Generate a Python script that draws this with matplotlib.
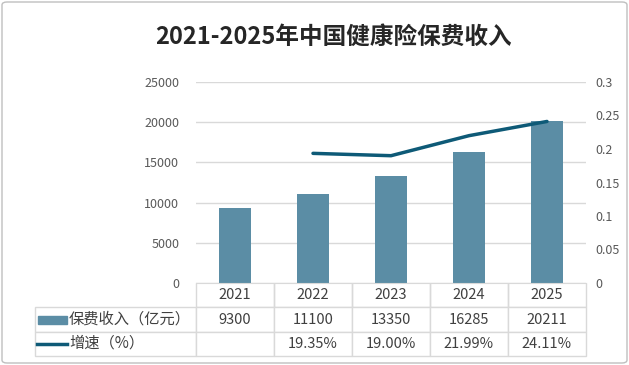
import numpy as np
import matplotlib.pyplot as plt
from matplotlib.patches import Rectangle, FancyBboxPatch
from matplotlib.lines import Line2D

plt.rcParams['font.family'] = ['Noto Sans CJK SC', 'DejaVu Sans']

#%% data
years = ['2021', '2022', '2023', '2024', '2025']
premium = [9300, 11100, 13350, 16285, 20211]  # 亿元
growth = [None, 0.1935, 0.1900, 0.2199, 0.2411]
growth_labels = ['', '19.35%', '19.00%', '21.99%', '24.11%']
row_names = ['保费收入（亿元）', '增速（%）']

bar_color = '#5B8DA5'
line_color = '#0E5A77'
grid_color = '#D9D9D9'
text_color = '#595959'

#%% figure
W, H = 629, 365
fig = plt.figure(figsize=(W / 100, H / 100), dpi=100)
fig.patch.set_facecolor('white')
fig.patches.append(FancyBboxPatch((2 / W, 2 / H), 1 - 4 / W, 1 - 4 / H,
                                  boxstyle='round,pad=0,rounding_size=0.008',
                                  transform=fig.transFigure, facecolor='none',
                                  edgecolor='#BFBFBF', linewidth=1))

# plot area in pixels
x0, x1, y_top, y_bot = 196, 586, 82, 283
ax = fig.add_axes([x0 / W, (H - y_bot) / H, (x1 - x0) / W, (y_bot - y_top) / H])

x = np.arange(len(years))
ax.bar(x, premium, width=0.4, color=bar_color, zorder=2)
ax.set_xlim(-0.5, len(years) - 0.5)
ax.set_ylim(0, 25000)
ax.set_yticks(np.arange(0, 25001, 5000))
ax.yaxis.grid(True, color=grid_color, linewidth=1, zorder=0)
ax.set_xticks([])
ax.tick_params(axis='y', length=0, pad=12, labelsize=9, labelcolor=text_color)
for s in ['top', 'right', 'left']:
    ax.spines[s].set_visible(False)
ax.spines['bottom'].set_color(grid_color)

ax2 = ax.twinx()
gx = [i for i, g in enumerate(growth) if g is not None]
gy = [g for g in growth if g is not None]
ax2.plot(gx, gy, color=line_color, linewidth=2.5, solid_capstyle='round', zorder=3)
ax2.set_ylim(0, 0.3)
ax2.set_yticks([0, 0.05, 0.1, 0.15, 0.2, 0.25, 0.3])
ax2.set_yticklabels(['0', '0.05', '0.1', '0.15', '0.2', '0.25', '0.3'])
ax2.tick_params(axis='y', length=0, pad=7, labelsize=9, labelcolor=text_color)
for s in ax2.spines.values():
    s.set_visible(False)

#%% data table below the plot
tab_left, tab_bot = 35, 356
hgt = y_bot - y_top
cell_text = [[''] + years,
             [''] + [str(v) for v in premium],
             [''] + growth_labels]
col_w = [x0 - tab_left] + [(x1 - x0) / len(years)] * len(years)
tbl = ax.table(cellText=cell_text, colWidths=col_w, cellLoc='center',
               bbox=[(tab_left - x0) / (x1 - x0), (y_bot - tab_bot) / hgt,
                     (x1 - tab_left) / (x1 - x0), (tab_bot - y_bot) / hgt])
tbl.auto_set_font_size(False)
tbl.set_fontsize(10.5)
for (r, c), cell in tbl.get_celld().items():
    cell.set_edgecolor(grid_color)
    cell.set_linewidth(1)
    cell.get_text().set_color('#404040')
    if r == 0 and c == 0:
        cell.visible_edges = ''
    elif r == 0:
        cell.visible_edges = 'LRB'

# row labels with legend keys
def ax_x(px):
    return (px - x0) / (x1 - x0)

def ax_y(py):
    return (y_bot - py) / hgt

row_y = [319.5, 343.5]
ax.add_patch(Rectangle((ax_x(38), ax_y(row_y[0] + 4)), ax_x(67) - ax_x(38), 8 / hgt,
                       transform=ax.transAxes, color=bar_color, clip_on=False))
ax.add_line(Line2D([ax_x(37), ax_x(67)], [ax_y(row_y[1])] * 2, transform=ax.transAxes,
                   color=line_color, linewidth=2.5, clip_on=False))
for name, yy in zip(row_names, row_y):
    ax.text(ax_x(69), ax_y(yy), name, transform=ax.transAxes, ha='left', va='center',
            fontsize=11, color='#404040')

#%% title
fig.text(334 / W, 1 - 37 / H, '2021-2025年中国健康险保费收入', ha='center', va='center',
         fontsize=17, fontweight='bold', color='#262626')

fig.savefig('out.png', dpi=100)
